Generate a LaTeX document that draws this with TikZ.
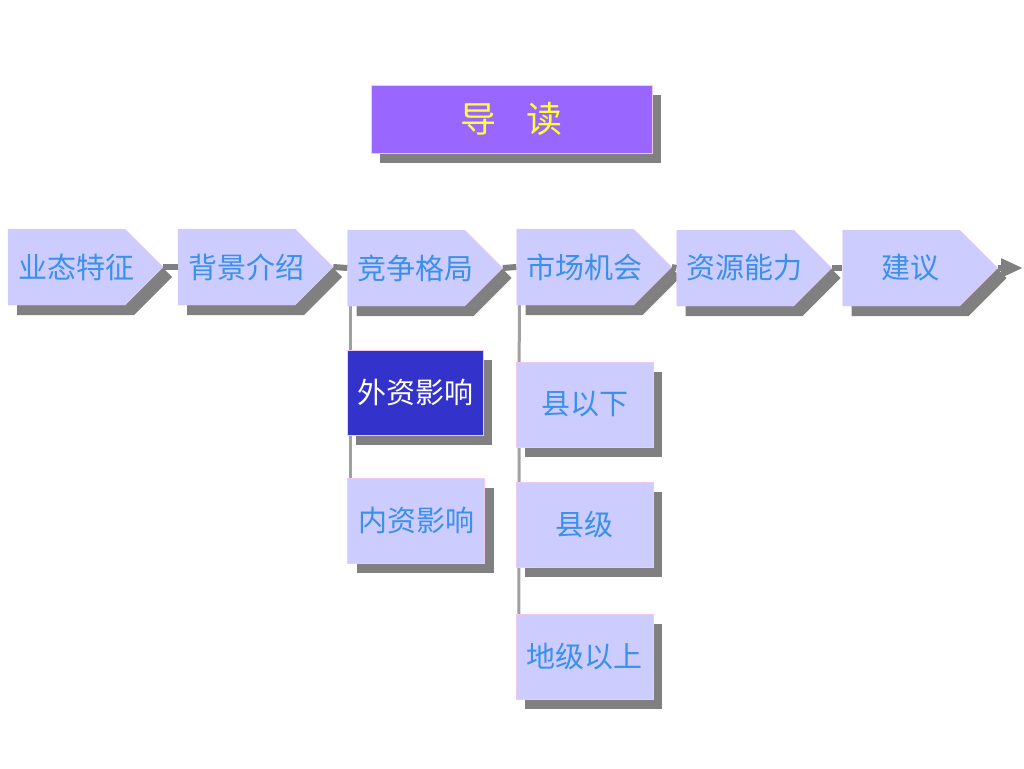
\documentclass[tikz,border=0pt]{standalone}
\usepackage{fontspec}
\newfontfamily\cjk{Noto Sans CJK SC}
\usetikzlibrary{shapes.symbols,shadows,arrows.meta,backgrounds}
\definecolor{boxfill}{HTML}{CCCCFF}
\definecolor{boxtext}{HTML}{3A90EA}
\definecolor{boxline}{HTML}{F0C8F0}
\definecolor{shadowgray}{HTML}{808080}
\definecolor{linegray}{HTML}{A0A0A0}
\definecolor{darkbox}{HTML}{3333CC}
\definecolor{titlefill}{HTML}{9966FF}
\definecolor{titletext}{HTML}{FFFF33}
% text of a chevron, pushed a little towards its point
\newcommand{\chevtext}[1]{\makebox[117pt][c]{\hspace{19pt}#1}}
\tikzset{
  boxshadow/.style={general shadow={shadow xshift=9pt, shadow yshift=-10pt, fill=shadowgray, draw=none}},
  chevron/.style={shape=signal, signal to=east, signal from=nowhere, draw=boxline, fill=boxfill,
    minimum width=155pt, minimum height=76pt, inner sep=0pt, text=boxtext,
    font=\cjk\fontsize{29}{32}\selectfont, boxshadow},
  subbox/.style={draw=boxline, fill=boxfill, minimum width=137pt, minimum height=85pt,
    inner sep=0pt, text=boxtext, font=\cjk\fontsize{29}{32}\selectfont, boxshadow},
  mainline/.style={shadowgray, line width=6pt},
  vline/.style={linegray, line width=3pt}
}
\begin{document}
\begin{tikzpicture}[x=1pt, y=-1pt]
	\useasboundingbox (0, 0) rectangle (1024, 768);
	%Title
	\node (title) [draw=boxline, fill=titlefill, minimum width=281pt, minimum height=68pt, boxshadow,
	  text=titletext, font=\cjk\fontsize{36}{40}\selectfont] at (511.5, 119) {导\hspace{30pt}读};
	%Main chevrons
	\node (yt) [chevron] at (66.5, 267) {\chevtext{业态特征}};
	\node (bj) [chevron] at (236.5, 267) {\chevtext{背景介绍}};
	\node (jz) [chevron] at (406, 268) {\chevtext{竞争格局}};
	\node (sc) [chevron] at (575, 267) {\chevtext{市场机会}};
	\node (zy) [chevron] at (735, 268) {\chevtext{资源能力}};
	\node (jy) [chevron] at (901, 268) {\chevtext{建议}};
	\coordinate (end) at (1023, 268);
	%Line through the chevrons
	\draw [mainline] (yt.east) -- (bj.west);
	\draw [mainline] (bj.east) -- (jz.west);
	\draw [mainline] (jz.east) -- (sc.west);
	\draw [mainline] (sc.east) -- (zy.west);
	\draw [mainline] (zy.east) -- (jy.west);
	\draw [mainline, -{Triangle[length=22pt, width=18pt]}] (jy.east) -- (end);
	%Competition
	\node (wz) [subbox, fill=darkbox, text=white, minimum width=136pt] at (415, 392.5) {外资影响};
	\node (nz) [subbox] at (416, 520.5) {内资影响};
	%Market
	\node (xyx) [subbox] at (584.5, 404.5) {县以下};
	\node (xj) [subbox] at (584.5, 524.5) {县级};
	\node (dj) [subbox] at (584.5, 656.5) {地级以上};
	%Branch lines
	\begin{pgfonlayer}{background}
	\draw [vline] ([xshift=3pt]jz.west |- jz.south) -- ([xshift=3pt]nz.north west);
	\draw [vline] ([xshift=3pt]sc.west |- sc.south) -- ([xshift=3pt]dj.north west);
	\end{pgfonlayer}
\end{tikzpicture}
\end{document}
